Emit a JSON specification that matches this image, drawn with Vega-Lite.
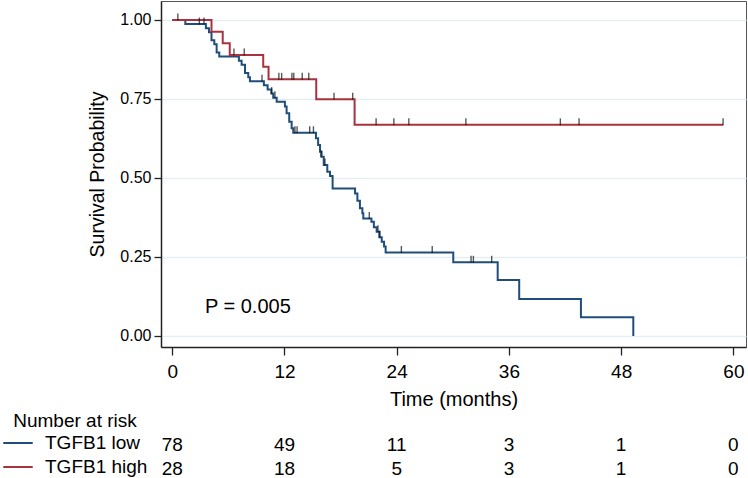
{
  "$schema": "https://vega.github.io/schema/vega-lite/v6.json",
  "width": 585,
  "height": 346,
  "autosize": {"type": "none"},
  "padding": {"left": 161, "top": 1, "right": 2, "bottom": 131},
  "background": "white",
  "config": {
    "font": "Liberation Sans",
    "view": {"stroke": "#555555", "strokeWidth": 1}
  },
  "layer": [
    {
      "layer": [
        {
          "data": {"values": [
            {"group": "TGFB1 low", "t": 0, "s": 1},
            {"group": "TGFB1 low", "t": 1.4, "s": 0.987},
            {"group": "TGFB1 low", "t": 3.6, "s": 0.974},
            {"group": "TGFB1 low", "t": 3.93, "s": 0.961},
            {"group": "TGFB1 low", "t": 4.2, "s": 0.936},
            {"group": "TGFB1 low", "t": 4.5, "s": 0.923},
            {"group": "TGFB1 low", "t": 4.75, "s": 0.897},
            {"group": "TGFB1 low", "t": 5.03, "s": 0.884},
            {"group": "TGFB1 low", "t": 7.13, "s": 0.871},
            {"group": "TGFB1 low", "t": 7.42, "s": 0.858},
            {"group": "TGFB1 low", "t": 7.78, "s": 0.832},
            {"group": "TGFB1 low", "t": 8.13, "s": 0.819},
            {"group": "TGFB1 low", "t": 8.31, "s": 0.806},
            {"group": "TGFB1 low", "t": 9.8, "s": 0.793},
            {"group": "TGFB1 low", "t": 10.2, "s": 0.78},
            {"group": "TGFB1 low", "t": 10.6, "s": 0.767},
            {"group": "TGFB1 low", "t": 10.8, "s": 0.754},
            {"group": "TGFB1 low", "t": 11.17, "s": 0.741},
            {"group": "TGFB1 low", "t": 12.05, "s": 0.726},
            {"group": "TGFB1 low", "t": 12.23, "s": 0.705},
            {"group": "TGFB1 low", "t": 12.51, "s": 0.678},
            {"group": "TGFB1 low", "t": 12.77, "s": 0.657},
            {"group": "TGFB1 low", "t": 12.94, "s": 0.643},
            {"group": "TGFB1 low", "t": 15.37, "s": 0.626},
            {"group": "TGFB1 low", "t": 15.6, "s": 0.604},
            {"group": "TGFB1 low", "t": 15.8, "s": 0.583},
            {"group": "TGFB1 low", "t": 15.97, "s": 0.567},
            {"group": "TGFB1 low", "t": 16.2, "s": 0.541},
            {"group": "TGFB1 low", "t": 16.58, "s": 0.52},
            {"group": "TGFB1 low", "t": 16.87, "s": 0.506},
            {"group": "TGFB1 low", "t": 17.15, "s": 0.467},
            {"group": "TGFB1 low", "t": 19.55, "s": 0.451},
            {"group": "TGFB1 low", "t": 19.8, "s": 0.428},
            {"group": "TGFB1 low", "t": 20.07, "s": 0.404},
            {"group": "TGFB1 low", "t": 20.33, "s": 0.388},
            {"group": "TGFB1 low", "t": 20.43, "s": 0.372},
            {"group": "TGFB1 low", "t": 21.3, "s": 0.361},
            {"group": "TGFB1 low", "t": 21.56, "s": 0.344},
            {"group": "TGFB1 low", "t": 21.86, "s": 0.33},
            {"group": "TGFB1 low", "t": 22.14, "s": 0.312},
            {"group": "TGFB1 low", "t": 22.4, "s": 0.298},
            {"group": "TGFB1 low", "t": 22.65, "s": 0.283},
            {"group": "TGFB1 low", "t": 22.82, "s": 0.264},
            {"group": "TGFB1 low", "t": 30.05, "s": 0.233},
            {"group": "TGFB1 low", "t": 34.8, "s": 0.177},
            {"group": "TGFB1 low", "t": 37.1, "s": 0.117},
            {"group": "TGFB1 low", "t": 43.7, "s": 0.059},
            {"group": "TGFB1 low", "t": 49.3, "s": 0},
            {"group": "TGFB1 high", "t": 0, "s": 1},
            {"group": "TGFB1 high", "t": 4.2, "s": 0.963},
            {"group": "TGFB1 high", "t": 5.4, "s": 0.926},
            {"group": "TGFB1 high", "t": 6.15, "s": 0.889},
            {"group": "TGFB1 high", "t": 9.73, "s": 0.852},
            {"group": "TGFB1 high", "t": 10.3, "s": 0.812},
            {"group": "TGFB1 high", "t": 15.4, "s": 0.749},
            {"group": "TGFB1 high", "t": 19.5, "s": 0.668},
            {"group": "TGFB1 high", "t": 58.9, "s": 0.668}
          ]},
          "mark": {"type": "line", "interpolate": "step-after", "strokeWidth": 2},
          "encoding": {
            "x": {
              "field": "t", "type": "quantitative",
              "scale": {"domain": [-1.2, 61.35], "nice": false, "zero": false},
              "axis": {
                "values": [0, 12, 24, 36, 48, 60],
                "title": "Time (months)",
                "titleFontSize": 20, "titleFontWeight": "normal", "titleColor": "#000000", "titlePadding": 8,
                "labelFontSize": 19, "labelColor": "#000000", "labelPadding": 7, "labelFlush": false,
                "tickSize": 8, "tickColor": "#222222", "tickWidth": 1.3,
                "domainColor": "#222222", "domainWidth": 1.5,
                "grid": false
              }
            },
            "y": {
              "field": "s", "type": "quantitative",
              "scale": {"domain": [-0.035, 1.06], "nice": false, "zero": false},
              "axis": {
                "values": [0, 0.25, 0.5, 0.75, 1],
                "format": ".2f",
                "title": "Survival Probability",
                "titleFontSize": 19.5, "titleFontWeight": "normal", "titleColor": "#000000", "titlePadding": 12,
                "labelFontSize": 16, "labelColor": "#000000", "labelPadding": 3,
                "tickSize": 7, "tickColor": "#222222", "tickWidth": 1.3,
                "domainColor": "#222222", "domainWidth": 1.5,
                "grid": true, "gridColor": "#E6EEF2", "gridWidth": 1.5
              }
            },
            "color": {
              "field": "group", "type": "nominal",
              "scale": {"domain": ["TGFB1 low", "TGFB1 high"], "range": ["#1F4E7A", "#A8323E"]},
              "legend": {
                "orient": "none", "legendX": -159, "legendY": 411,
                "title": "Number at risk", "titleFontSize": 19, "titleFontWeight": "normal", "titleColor": "#000000",
                "titleAnchor": "middle", "titlePadding": 0,
                "labelFontSize": 19, "labelColor": "#000000", "labelOffset": 11,
                "symbolType": "stroke", "symbolSize": 870, "symbolStrokeWidth": 2,
                "clipHeight": 24, "rowPadding": 0, "padding": 0
              }
            }
          }
        },
        {
          "data": {"values": [
            {"t": 0.6, "s": 1.0},
            {"t": 2.9, "s": 0.987},
            {"t": 3.4, "s": 0.987},
            {"t": 6.6, "s": 0.889},
            {"t": 7.7, "s": 0.889},
            {"t": 9.6, "s": 0.806},
            {"t": 10.63, "s": 0.767},
            {"t": 10.98, "s": 0.754},
            {"t": 11.4, "s": 0.812},
            {"t": 11.7, "s": 0.812},
            {"t": 12.8, "s": 0.812},
            {"t": 13.0, "s": 0.812},
            {"t": 13.9, "s": 0.812},
            {"t": 14.6, "s": 0.812},
            {"t": 13.12, "s": 0.643},
            {"t": 13.35, "s": 0.643},
            {"t": 14.7, "s": 0.643},
            {"t": 15.1, "s": 0.643},
            {"t": 15.9, "s": 0.567},
            {"t": 16.33, "s": 0.541},
            {"t": 17.3, "s": 0.749},
            {"t": 19.3, "s": 0.749},
            {"t": 21.07, "s": 0.372},
            {"t": 22.0, "s": 0.33},
            {"t": 22.2, "s": 0.312},
            {"t": 21.8, "s": 0.668},
            {"t": 23.7, "s": 0.668},
            {"t": 25.3, "s": 0.668},
            {"t": 31.4, "s": 0.668},
            {"t": 41.5, "s": 0.668},
            {"t": 43.5, "s": 0.668},
            {"t": 58.9, "s": 0.668},
            {"t": 24.5, "s": 0.264},
            {"t": 27.8, "s": 0.264},
            {"t": 31.95, "s": 0.233},
            {"t": 32.2, "s": 0.233},
            {"t": 34.16, "s": 0.233}
          ]},
          "mark": {"type": "tick", "orient": "vertical", "size": 7, "thickness": 1.4, "yOffset": -3, "color": "#111111"},
          "encoding": {
            "x": {"field": "t", "type": "quantitative"},
            "y": {"field": "s", "type": "quantitative"}
          }
        },
        {
          "data": {"values": [{}]},
          "mark": {"type": "text", "text": "P = 0.005", "align": "left", "baseline": "middle", "fontSize": 20, "color": "#000000"},
          "encoding": {
            "x": {"datum": 3.5, "type": "quantitative"},
            "y": {"datum": 0.092, "type": "quantitative"}
          }
        }
      ]
    },
    {
      "data": {"values": [
        {"group": "TGFB1 low", "t": 0, "n": 78},
        {"group": "TGFB1 low", "t": 12, "n": 49},
        {"group": "TGFB1 low", "t": 24, "n": 11},
        {"group": "TGFB1 low", "t": 36, "n": 3},
        {"group": "TGFB1 low", "t": 48, "n": 1},
        {"group": "TGFB1 low", "t": 60, "n": 0},
        {"group": "TGFB1 high", "t": 0, "n": 28},
        {"group": "TGFB1 high", "t": 12, "n": 18},
        {"group": "TGFB1 high", "t": 24, "n": 5},
        {"group": "TGFB1 high", "t": 36, "n": 3},
        {"group": "TGFB1 high", "t": 48, "n": 1},
        {"group": "TGFB1 high", "t": 60, "n": 0}
      ]},
      "mark": {"type": "text", "fontSize": 19, "align": "center", "baseline": "middle", "color": "#000000"},
      "encoding": {
        "x": {"field": "t", "type": "quantitative", "scale": {"domain": [-1.2, 61.35], "nice": false, "zero": false}},
        "y": {
          "field": "group", "type": "nominal",
          "scale": {"type": "point", "domain": ["TGFB1 low", "TGFB1 high"], "range": [444, 468], "padding": 0},
          "axis": null
        },
        "text": {"field": "n", "type": "quantitative"}
      }
    }
  ],
  "resolve": {"scale": {"y": "independent"}, "axis": {"y": "independent"}}
}
